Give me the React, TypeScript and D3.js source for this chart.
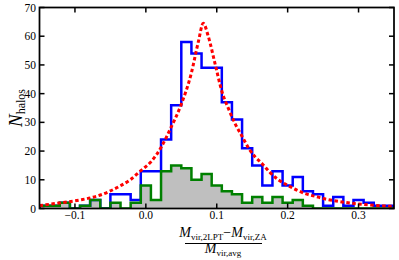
import React, { useRef, useEffect } from "react";
import * as d3 from "d3";

// histogram bins: 35 bins from -0.15 to 0.35
const binEdges = d3.range(36).map((i) => -0.15 + i / 70);

const allCounts = [
  1, 1, 2, 0, 1, 3, 0, 5, 5, 3, 13, 13, 24, 36, 58, 54, 49, 49, 37, 31, 21, 15,
  8, 13, 8, 11, 6, 5, 1, 4, 1, 3, 2, 1, 1,
];

const subsetCounts = [
  1, 1, 2, 0, 1, 3, 0, 2, 0, 2, 8, 3, 13, 15, 14, 10, 12, 8, 6, 5, 2, 4, 2, 4,
  2, 3, 1, 0, 0, 0, 0, 0, 0, 0, 0,
];

// fitted curve
const fitX = [
  -0.15, -0.12, -0.092, -0.064, -0.036, -0.022, -0.007, 0.008, 0.022, 0.036,
  0.05, 0.064, 0.074, 0.081, 0.088, 0.098, 0.107, 0.117, 0.126, 0.136, 0.145,
  0.154, 0.164, 0.175, 0.187, 0.199, 0.213, 0.227, 0.241, 0.25, 0.279, 0.307,
  0.335, 0.35,
];
const fitY = [
  1.0, 2.0, 3.0, 4.7, 7.9, 10.0, 13.2, 16.5, 21.5, 28.5, 36.3, 47, 58, 64.5,
  60, 50, 41, 34.5, 29.5, 25, 21, 18, 15.6, 12.6, 10, 8.2, 6.4, 5.0, 4.1, 3.5,
  2.2, 1.4, 0.9, 0.7,
];

const xTicks = [-0.1, 0.0, 0.1, 0.2, 0.3];
const yTicks = [0, 10, 20, 30, 40, 50, 60, 70];

const FONT = "'Liberation Serif', 'DejaVu Serif', serif";

const App: React.FC = () => {
  const ref = useRef<SVGSVGElement | null>(null);

  useEffect(() => {
    if (!ref.current) return;
    const root = d3.select(ref.current);
    root.selectAll("*").remove();

    const width = 399;
    const height = 260;
    const margin = { top: 7.5, right: 5, bottom: 51.5, left: 39.5 };
    const w = width - margin.left - margin.right;
    const h = height - margin.top - margin.bottom;

    const svg = root
      .attr("width", width)
      .attr("height", height)
      .append("g")
      .attr("transform", `translate(${margin.left},${margin.top})`);

    const x = d3.scaleLinear().domain([-0.15, 0.35]).range([0, w]);
    const y = d3.scaleLinear().domain([0, 70]).range([h, 0]);

    svg
      .append("clipPath")
      .attr("id", "plotclip")
      .append("rect")
      .attr("width", w)
      .attr("height", h);

    const plot = svg.append("g").attr("clip-path", "url(#plotclip)");

    // step points: each bin left edge + closing edge, start/end at zero
    const stepPts = (counts: number[]) => {
      const pts: [number, number][] = [[binEdges[0], 0]];
      counts.forEach((c, i) => pts.push([binEdges[i], c]));
      pts.push([binEdges[binEdges.length - 1], 0]);
      return pts;
    };

    const area = d3
      .area<[number, number]>()
      .x((d) => x(d[0]))
      .y0(y(0))
      .y1((d) => y(d[1]))
      .curve(d3.curveStepAfter);

    const line = d3
      .line<[number, number]>()
      .x((d) => x(d[0]))
      .y((d) => y(d[1]))
      .curve(d3.curveStepAfter);

    plot
      .append("path")
      .attr("d", area(stepPts(subsetCounts)))
      .attr("fill", "#bfbfbf");

    plot
      .append("path")
      .attr("d", line(stepPts(allCounts)))
      .attr("fill", "none")
      .attr("stroke", "#0000ff")
      .attr("stroke-width", 2.5);

    plot
      .append("path")
      .attr("d", line(stepPts(subsetCounts)))
      .attr("fill", "none")
      .attr("stroke", "#008000")
      .attr("stroke-width", 2.5);

    const fitLine = d3
      .line<number>()
      .x((d, i) => x(fitX[i]))
      .y((d) => y(d))
      .curve(d3.curveMonotoneX);

    plot
      .append("path")
      .attr("d", fitLine(fitY))
      .attr("fill", "none")
      .attr("stroke", "#ff0000")
      .attr("stroke-width", 3)
      .attr("stroke-dasharray", "3.5,2.5");

    // frame
    svg
      .append("rect")
      .attr("width", w)
      .attr("height", h)
      .attr("fill", "none")
      .attr("stroke", "#000")
      .attr("stroke-width", 1.75);

    // ticks (inward, all sides)
    const tl = 5;
    const tg = svg.append("g").attr("stroke", "#000").attr("stroke-width", 1.5);
    xTicks.forEach((t) => {
      tg.append("line").attr("x1", x(t)).attr("x2", x(t)).attr("y1", h).attr("y2", h - tl);
      tg.append("line").attr("x1", x(t)).attr("x2", x(t)).attr("y1", 0).attr("y2", tl);
    });
    yTicks.forEach((t) => {
      tg.append("line").attr("x1", 0).attr("x2", tl).attr("y1", y(t)).attr("y2", y(t));
      tg.append("line").attr("x1", w).attr("x2", w - tl).attr("y1", y(t)).attr("y2", y(t));
    });

    svg
      .append("g")
      .selectAll("text")
      .data(xTicks)
      .join("text")
      .attr("x", (d) => x(d))
      .attr("y", h + 10.5)
      .attr("text-anchor", "middle")
      .style("font-family", FONT)
      .style("font-size", "11.5px")
      .text((d) => d3.format(".1f")(d).replace("-", "\u2212"));

    svg
      .append("g")
      .selectAll("text")
      .data(yTicks)
      .join("text")
      .attr("x", -3.5)
      .attr("y", (d) => y(d) + 4)
      .attr("text-anchor", "end")
      .style("font-family", FONT)
      .style("font-size", "11.5px")
      .text((d) => String(d));

    // y label
    const yl = root
      .append("text")
      .attr("transform", "translate(22,108) rotate(-90)")
      .attr("text-anchor", "middle")
      .style("font-family", FONT);
    yl.append("tspan").style("font-size", "19px").style("font-style", "italic").text("N");
    yl.append("tspan").style("font-size", "12px").attr("dy", 3).text("halos");

    // x label as a fraction
    const cx = 223;
    const num = root
      .append("text")
      .attr("x", cx)
      .attr("y", 237)
      .attr("text-anchor", "middle")
      .style("font-family", FONT);
    num.append("tspan").style("font-size", "14px").style("font-style", "italic").text("M");
    num.append("tspan").style("font-size", "9px").attr("dy", 2.5).text("vir,2LPT");
    num.append("tspan").style("font-size", "14px").attr("dy", -2.5).text("\u2212");
    num.append("tspan").style("font-size", "14px").style("font-style", "italic").text("M");
    num.append("tspan").style("font-size", "9px").attr("dy", 2.5).text("vir,ZA");

    root
      .append("line")
      .attr("x1", 185)
      .attr("x2", 262)
      .attr("y1", 243.5)
      .attr("y2", 243.5)
      .attr("stroke", "#000")
      .attr("stroke-width", 1);

    const den = root
      .append("text")
      .attr("x", cx)
      .attr("y", 253)
      .attr("text-anchor", "middle")
      .style("font-family", FONT);
    den.append("tspan").style("font-size", "14px").style("font-style", "italic").text("M");
    den.append("tspan").style("font-size", "9px").attr("dy", 2.5).text("vir,avg");
  }, []);

  return (
    <svg
      ref={ref}
      style={{ position: "absolute", left: 0, top: 0, background: "#fff" }}
    ></svg>
  );
};

export default App;
